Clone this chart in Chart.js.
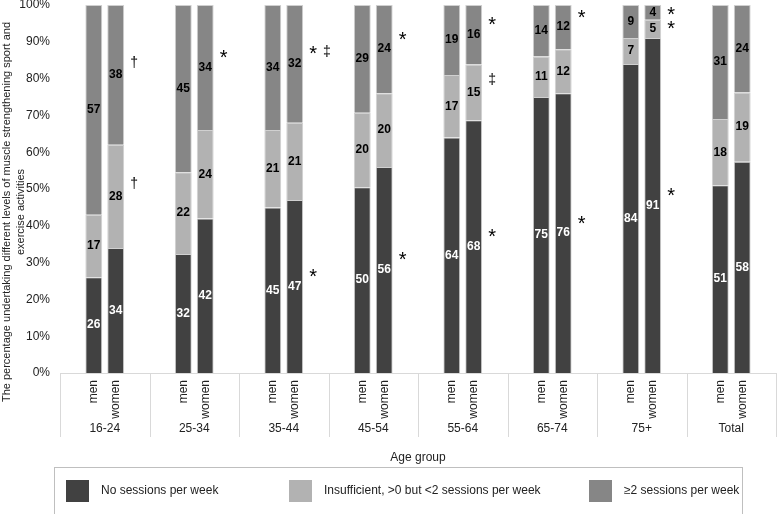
<!DOCTYPE html>
<html>
<head>
<meta charset="utf-8">
<script src="https://cdn.jsdelivr.net/npm/chart.js@4"></script>
<style>
  body { margin: 0; background: #fff; }
  #wrap { width: 778px; height: 514px; }
</style>
</head>
<body>
<div id="wrap"><canvas id="chart"></canvas></div>
<script>
const groups = ['16-24', '25-34', '35-44', '45-54', '55-64', '65-74', '75+', 'Total'];
const sexes = ['men', 'women'];

// percentages per group
const menNone = [26, 32, 45, 50, 64, 75, 84, 51];
const menInsuf = [17, 22, 21, 20, 17, 11, 7, 18];
const menTwo = [57, 45, 34, 29, 19, 14, 9, 31];
const womenNone = [34, 42, 47, 56, 68, 76, 91, 58];
const womenInsuf = [28, 24, 21, 20, 15, 12, 5, 19];
const womenTwo = [38, 34, 32, 24, 16, 12, 4, 24];

const seriesNames = ['No sessions per week', 'Insufficient, >0 but <2 sessions per week', '\u22652 sessions per week'];
const seriesColors = ['#414141', '#b2b2b2', '#868686'];
const labelColors = ['#ffffff', '#000000', '#000000'];
const yTitle = ['The percentage undertaking different levels of muscle strengthening sport and', 'exercise activities'];

// significance markers next to the women's bars
const markerGroup = ['16-24', '16-24', '25-34', '35-44', '35-44', '45-54', '45-54', '55-64', '55-64', '55-64', '65-74', '65-74', '75+', '75+', '75+'];
const markerSeries = [2, 1, 2, 2, 0, 2, 0, 2, 1, 0, 2, 0, 2, 1, 0];
const markerSymbol = ['\u2020', '\u2020', '*', '* \u2021', '*', '*', '*', '*', '\u2021', '*', '*', '*', '*', '*', '*'];

const FONT = '"Liberation Sans", Arial, sans-serif';

function pct(rows) {
  // 100% stacked, like the original spreadsheet chart
  return rows[0].map((_, i) => {
    const sum = rows.reduce((s, r) => s + r[i], 0);
    return rows.map(r => r[i] / sum * 100);
  });
}
const menPct = pct([menNone, menInsuf, menTwo]);
const womenPct = pct([womenNone, womenInsuf, womenTwo]);
const raw = [menNone, menInsuf, menTwo, womenNone, womenInsuf, womenTwo];

const datasets = [];
[menPct, womenPct].forEach((p, s) => {
  for (let k = 0; k < 3; k++) {
    datasets.push({
      label: seriesNames[k],
      stack: sexes[s],
      data: p.map(r => r[k]),
      backgroundColor: seriesColors[k],
      borderColor: '#d0d0d0',
      borderWidth: 1,
      categoryPercentage: 0.49,
      barPercentage: 0.77
    });
  }
});

const drawExtras = {
  id: 'drawExtras',
  afterDatasetsDraw(chart) {
    const ctx = chart.ctx;
    const area = chart.chartArea;
    const x = chart.scales.x;
    ctx.save();

    // value labels
    ctx.font = 'bold 12px ' + FONT;
    ctx.textAlign = 'center';
    ctx.textBaseline = 'middle';
    chart.data.datasets.forEach((ds, d) => {
      chart.getDatasetMeta(d).data.forEach((el, i) => {
        ctx.fillStyle = labelColors[d % 3];
        ctx.fillText(String(raw[d][i]), el.x, (el.y + el.base) / 2);
      });
    });

    // markers
    ctx.fillStyle = '#000';
    ctx.textAlign = 'left';
    markerGroup.forEach((g, m) => {
      const i = groups.indexOf(g);
      const el = chart.getDatasetMeta(3 + markerSeries[m]).data[i];
      const mid = (el.y + el.base) / 2;
      const y = Math.max(el.y + 7, mid - 12);
      let xx = el.x + el.width / 2 + 6;
      markerSymbol[m].split(' ').forEach(sym => {
        const star = sym === '*';
        ctx.font = (star ? '20px ' : '14px ') + FONT;
        ctx.fillText(sym, xx, star ? y + 3 : y);
        xx += ctx.measureText(sym).width + 6;
      });
    });

    // y axis title
    ctx.fillStyle = '#222';
    ctx.font = '11px ' + FONT;
    yTitle.forEach((line, j) => {
      ctx.save();
      ctx.translate(7 + j * 14, 212);
      ctx.rotate(-Math.PI / 2);
      ctx.textAlign = 'center';
      ctx.textBaseline = 'middle';
      ctx.fillText(line, 0, 0);
      ctx.restore();
    });

    // axis line and group dividers
    ctx.strokeStyle = '#d9d9d9';
    ctx.lineWidth = 1;
    ctx.beginPath();
    ctx.moveTo(area.left, area.bottom + 0.5);
    ctx.lineTo(area.right, area.bottom + 0.5);
    const step = (area.right - area.left) / groups.length;
    for (let i = 0; i <= groups.length; i++) {
      const xx = Math.round(area.left + i * step) + 0.5;
      ctx.moveTo(xx, area.bottom);
      ctx.lineTo(xx, area.bottom + 64);
    }
    ctx.stroke();

    // men / women labels
    ctx.fillStyle = '#222';
    ctx.font = '12px ' + FONT;
    [0, 3].forEach((d, s) => {
      chart.getDatasetMeta(d).data.forEach(el => {
        ctx.save();
        ctx.translate(el.x, area.bottom + 7);
        ctx.rotate(-Math.PI / 2);
        ctx.textAlign = 'right';
        ctx.textBaseline = 'middle';
        ctx.fillText(sexes[s], 0, 0);
        ctx.restore();
      });
    });

    // group labels
    ctx.textAlign = 'center';
    ctx.textBaseline = 'middle';
    groups.forEach((g, i) => {
      ctx.fillText(g, x.getPixelForValue(i), area.bottom + 56);
    });
    ctx.fillText('Age group', (area.left + area.right) / 2, area.bottom + 85);

    // legend box
    ctx.strokeStyle = '#bfbfbf';
    ctx.strokeRect(54.5, 467.5, 688, 60);
    const legX = [66, 289, 589];
    seriesNames.forEach((name, k) => {
      ctx.fillStyle = seriesColors[k];
      ctx.fillRect(legX[k], 480, 23, 22);
      ctx.fillStyle = '#222';
      ctx.textAlign = 'left';
      ctx.fillText(name, legX[k] + 35, 491);
    });
    ctx.restore();
  }
};

new Chart(document.getElementById('chart'), {
  type: 'bar',
  data: { labels: groups, datasets: datasets },
  options: {
    responsive: true,
    maintainAspectRatio: false,
    animation: false,
    layout: { padding: { top: 5, right: 2, bottom: 141, left: 0 } },
    plugins: {
      legend: { display: false },
      tooltip: { enabled: false }
    },
    scales: {
      x: { display: false, stacked: true },
      y: {
        stacked: true,
        min: 0,
        max: 100,
        grid: { display: false, drawTicks: false },
        border: { display: false },
        afterFit: axis => {
          axis.width = 60;
          axis.paddingTop = 0;
          axis.paddingBottom = 0;
        },
        ticks: {
          stepSize: 10,
          padding: 10,
          color: '#222',
          font: { family: FONT, size: 12 },
          callback: v => v + '%'
        }
      }
    }
  },
  plugins: [drawExtras]
});
</script>
</body>
</html>
